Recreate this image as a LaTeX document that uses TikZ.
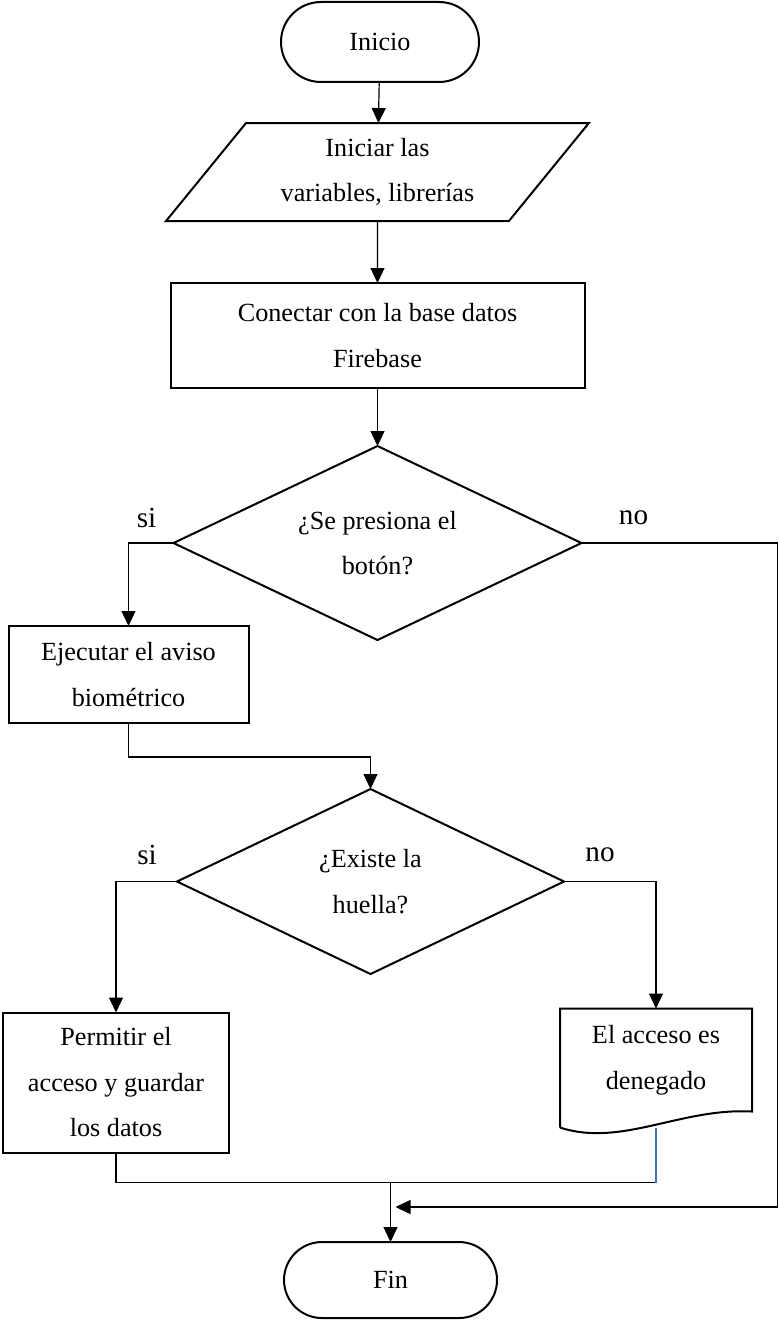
\documentclass[tikz,border=0pt]{standalone}
\usepackage{fontspec}
\setmainfont{Liberation Serif}
\usetikzlibrary{arrows.meta, positioning, shapes.geometric, shapes.misc}
\definecolor{flowblue}{RGB}{68,114,196}

\begin{document}
\begin{tikzpicture}[x=0.5pt, y=-0.5pt, >={Triangle[width=7pt,length=7.5pt]},
      font=\fontsize{13.1pt}{22.75pt}\selectfont,
      term/.style={draw, line width=1pt, rounded rectangle, inner sep=0pt, outer sep=0pt},
      io/.style={draw, line width=1pt, trapezium, trapezium left angle=49,
                 trapezium right angle=131, trapezium stretches=true,
                 minimum width=211.5pt, minimum height=49pt, align=center, inner sep=0pt, outer sep=0pt},
      proc/.style={draw, line width=1pt, rectangle, align=center, inner sep=0pt, outer sep=0pt},
      dec/.style={draw, line width=1pt, diamond, aspect=2.1, align=center, inner sep=0pt, outer sep=0pt},
      doc/.style={rectangle, align=center, minimum width=96pt, minimum height=51.5pt, inner sep=0pt, outer sep=0pt},
      lbl/.style={font=\fontsize{14.6pt}{17pt}\selectfont, inner sep=0pt},
      arr/.style={->, line width=0.6pt},
      link/.style={line width=0.6pt}]
    \useasboundingbox (0,0) rectangle (779,1322);
    \node[term, minimum width=99pt, minimum height=40pt] (inicio) at (380,42) {Inicio};
    \node[io, below=20.5pt of inicio, xshift=-1.25pt] (io) {Iniciar las\\variables, librerías};
    \node[proc, below=31pt of io, minimum width=207pt, minimum height=52.5pt] (conectar) {Conectar con la base datos\\Firebase};
    \node[dec, below=29pt of conectar, minimum width=204pt, minimum height=97pt] (d1) {¿Se presiona el\\botón?};
    \node[proc, below=41.5pt of d1.west, xshift=-22.5pt, minimum width=120pt, minimum height=48.5pt] (ejecutar) {Ejecutar el aviso\\biométrico};
    \node[dec, below=74.5pt of d1, xshift=-3.5pt, minimum width=193.5pt, minimum height=92.5pt] (d2) {¿Existe la\\huella?};
    \node[proc, below=65.5pt of d2.west, xshift=-30.5pt, minimum width=113pt, minimum height=70pt] (permitir) {Permitir el\\acceso y guardar\\los datos};
    \node[doc, below=63.5pt of d2.east, xshift=46pt] (deneg) {El acceso es\\denegado};
    \node[term, below=134pt of d2, xshift=10pt, minimum width=106.5pt, minimum height=38pt] (fin) {Fin};
    % labels
    \node[lbl] (si1) at ([shift={(-13.5pt,12.5pt)}]d1.west) {si};
    \node[lbl] (no1) at ([shift={(26pt,12.5pt)}]d1.east) {no};
    \node[lbl] (si2) at ([shift={(-15pt,13.5pt)}]d2.west) {si};
    \node[lbl] (no2) at ([shift={(18pt,13.5pt)}]d2.east) {no};
    % document outline
    \draw[line width=1pt] ([yshift=-8pt]deneg.south west) -- (deneg.north west) -- (deneg.north east)
      -- (deneg.south east) .. controls +(-71,-4) and +(61,20) .. ([yshift=-8pt]deneg.south west);
    % helper points
    \coordinate[right=98pt of d1.east] (noright);
    \coordinate[above right=17.5pt and 2.5pt of fin.north] (fintip);
    \coordinate[below=15pt of permitir.south] (merge);
    % arrows
    \draw[arr] (inicio) -- (io);
    \draw[arr] (io) -- (conectar);
    \draw[arr] (conectar) -- (d1);
    \draw[arr] (d1.west) -| (ejecutar.north);
    \draw[arr] (d1.east) -- (noright) |- (fintip);
    \draw[arr] (ejecutar.south) -- ++(0,34) -| (d2.north);
    \draw[arr] (d2.west) -| (permitir.north);
    \draw[arr] (d2.east) -| (deneg.north);
    \draw[link] (permitir.south) -- (merge) -- (merge -| deneg.south);
    \draw[link, flowblue] ([yshift=-8pt]deneg.south) -- (merge -| deneg.south);
    \draw[arr] (merge -| fin.north) -- (fin.north);
  \end{tikzpicture}
\end{document}
